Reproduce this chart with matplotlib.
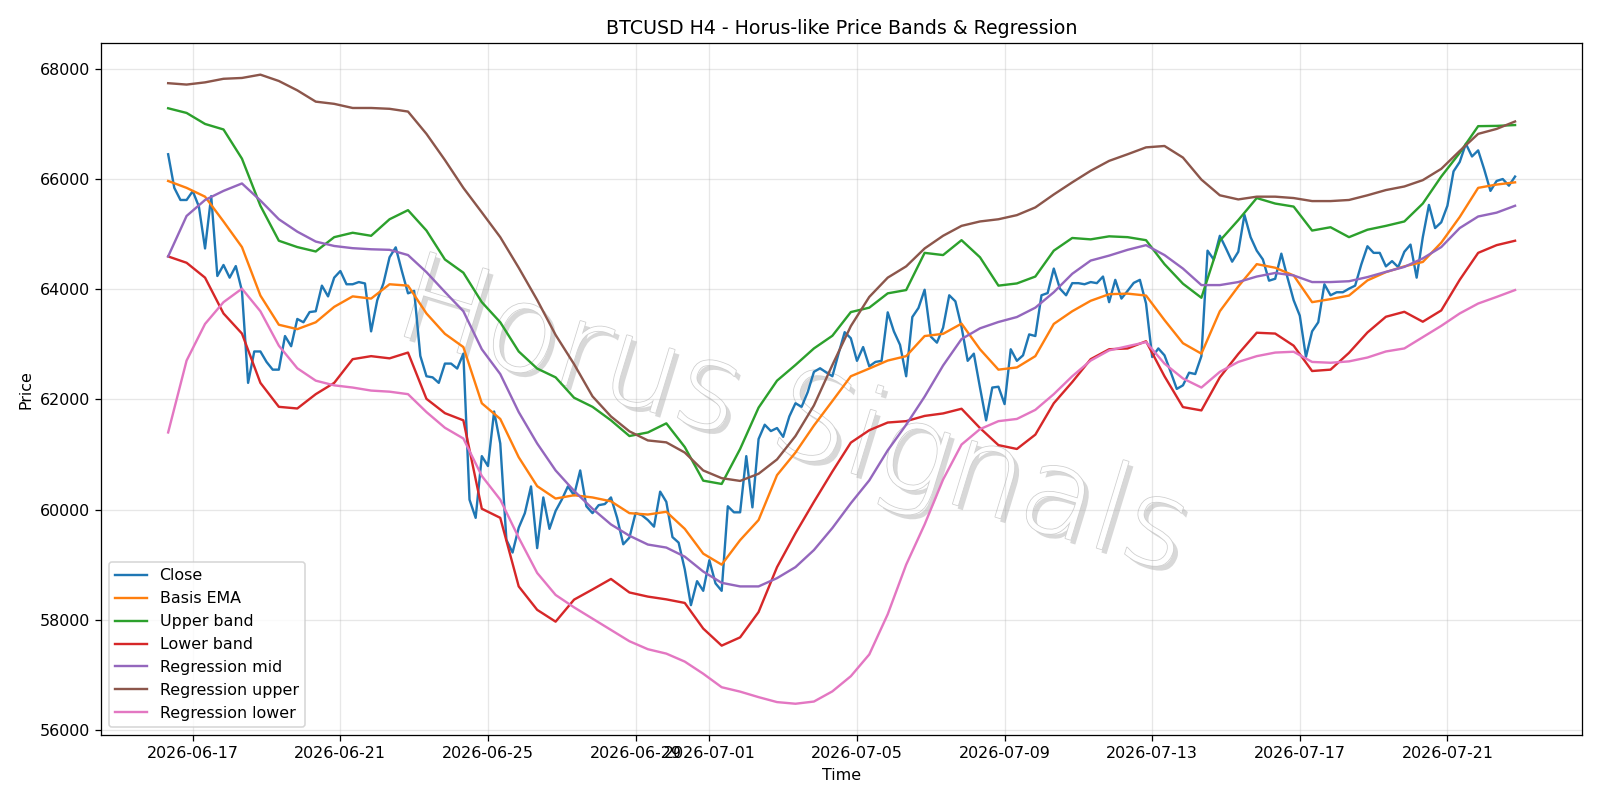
import matplotlib
matplotlib.use("Agg")
import matplotlib.pyplot as plt
import matplotlib.dates as mdates
import matplotlib.patheffects as pe
import pandas as pd

# H4 closes, first bar 2026-06-16 08:00
close = [
    66450, 65840, 65620, 65620, 65780, 65500, 64740, 65690, 64240, 64440,
    64210, 64420, 63970, 62300, 62870, 62870, 62680, 62540, 62540, 63150,
    62965, 63460, 63400, 63585, 63600, 64065, 63870, 64210, 64330, 64090,
    64090, 64130, 64105, 63235, 63800, 64105, 64580, 64760, 64330, 63925,
    63970, 62790, 62420, 62400, 62300, 62650, 62650, 62560, 62830, 60180,
    59850, 60970, 60790, 61780, 61200, 59450, 59220, 59670, 59935, 60420,
    59300, 60220, 59650, 59975, 60180, 60420, 60260, 60710, 60060, 59935,
    60080, 60100, 60220, 59850, 59370, 59490, 59935, 59900, 59810, 59690,
    60325, 60140, 59500, 59400, 58915, 58265, 58700, 58525, 59080, 58660,
    58525, 60060, 59950, 59950, 60970, 60040, 61280, 61540, 61425, 61480,
    61320, 61690, 61930, 61865, 62135, 62500, 62565, 62490, 62420, 62830,
    63220, 63110, 62700, 62950, 62600, 62680, 62700, 63580, 63235, 62990,
    62420, 63495, 63660, 63990, 63140, 63030, 63300, 63890, 63780, 63315,
    62700, 62830, 62215, 61620, 62215, 62230, 61915, 62910, 62700, 62800,
    63180, 63150, 63890, 63930, 64375, 64010, 63890, 64110, 64110, 64090,
    64130, 64110, 64230, 63765, 64170, 63830, 63970, 64115, 64170, 63740,
    62770, 62925, 62800, 62500, 62190, 62255, 62485, 62460, 62785, 64700,
    64540, 64970, 64740, 64500, 64680, 65350, 64945, 64700, 64540, 64155,
    64190, 64645, 64210, 63800, 63520, 62770, 63235, 63400, 64090, 63890,
    63945, 63945, 64010, 64065, 64450, 64780, 64660, 64660, 64415, 64510,
    64400, 64680, 64810, 64210, 64945, 65530, 65110, 65215, 65515, 66140,
    66310, 66640, 66410, 66520, 66170, 65785, 65965, 66000, 65880, 66045,
]

# smooth series, read every 3rd bar (12h)
basis_ema = [
    65965, 65840, 65680, 65230, 64765, 63885, 63355, 63275, 63400, 63680,
    63870, 63830, 64090, 64065, 63560, 63190, 62950, 61930, 61645, 60950,
    60425, 60200, 60260, 60220, 60150, 59935, 59910, 59960, 59650, 59200,
    59000, 59445, 59810, 60625, 61035, 61525, 61970, 62420, 62560, 62705,
    62785, 63150, 63190, 63375, 62910, 62540, 62580, 62785, 63370, 63600,
    63790, 63910, 63920, 63885, 63440, 63020, 62830, 63600, 64050, 64455,
    64390, 64250, 63765, 63820, 63885, 64160, 64310, 64415, 64495, 64845,
    65310, 65840, 65900, 65940,
]
upper_band = [
    67285, 67200, 67000, 66900, 66370, 65515, 64880, 64765, 64685, 64945,
    65025, 64970, 65270, 65435, 65065, 64540, 64300, 63765, 63400, 62870,
    62560, 62400, 62030, 61865, 61620, 61335, 61400, 61565, 61135, 60525,
    60465, 61100, 61850, 62340, 62625, 62925, 63155, 63585, 63665, 63925,
    63985, 64660, 64620, 64890, 64580, 64065, 64105, 64230, 64700, 64930,
    64905, 64960, 64945, 64890, 64455, 64100, 63845, 64880, 65255, 65655,
    65555, 65500, 65065, 65125, 64945, 65080, 65150, 65230, 65555, 66045,
    66475, 66960, 66965, 66980,
]
lower_band = [
    64595, 64480, 64210, 63560, 63195, 62300, 61865, 61835, 62095, 62300,
    62730, 62785, 62745, 62850, 62010, 61750, 61620, 60015, 59850, 58605,
    58180, 57965, 58365, 58550, 58740, 58495, 58420, 58370, 58305, 57840,
    57530, 57680, 58140, 58955, 59570, 60140, 60690, 61215, 61440, 61580,
    61605, 61700, 61745, 61830, 61480, 61170, 61100, 61360, 61930, 62315,
    62730, 62910, 62925, 63055, 62420, 61860, 61800, 62400, 62825, 63210,
    63195, 62975, 62515, 62540, 62845, 63215, 63500, 63590, 63410, 63615,
    64170, 64660, 64800, 64880,
]
reg_mid = [
    64595, 65330, 65620, 65785, 65920, 65610, 65270, 65045, 64865, 64785,
    64745, 64725, 64715, 64620, 64310, 63950, 63600, 62910, 62460, 61770,
    61200, 60710, 60340, 60015, 59730, 59525, 59365, 59310, 59145, 58875,
    58670, 58605, 58605, 58755, 58955, 59265, 59665, 60115, 60530, 61075,
    61540, 62050, 62615, 63095, 63290, 63405, 63495, 63665, 63945, 64280,
    64520, 64610, 64715, 64800, 64620, 64375, 64075, 64075, 64130, 64230,
    64295, 64250, 64130, 64130, 64145, 64220, 64315, 64405, 64560, 64765,
    65110, 65320, 65390, 65515,
]
reg_upper = [
    67740, 67715, 67755, 67820, 67835, 67895, 67780, 67610, 67405, 67365,
    67290, 67290, 67275, 67225, 66820, 66345, 65840, 65395, 64945, 64390,
    63805, 63170, 62640, 62055, 61690, 61420, 61255, 61220, 61035, 60710,
    60570, 60520, 60650, 60910, 61335, 61890, 62625, 63330, 63860, 64210,
    64415, 64740, 64970, 65150, 65230, 65270, 65345, 65485, 65720, 65940,
    66150, 66330, 66450, 66575, 66600, 66390, 65990, 65705, 65630, 65680,
    65680, 65655, 65600, 65600, 65620, 65705, 65800, 65865, 65980, 66185,
    66510, 66820, 66910, 67045,
]
reg_lower = [
    61400, 62705, 63370, 63765, 64010, 63600, 62975, 62565, 62340, 62255,
    62215, 62160, 62140, 62095, 61770, 61485, 61290, 60610, 60180, 59490,
    58850, 58450, 58225, 58020, 57815, 57610, 57465, 57385, 57240, 57020,
    56775, 56695, 56595, 56505, 56475, 56515, 56700, 56975, 57370, 58100,
    59000, 59730, 60545, 61180, 61460, 61605, 61645, 61810, 62095, 62420,
    62705, 62890, 62965, 63040, 62650, 62380, 62215, 62500, 62680, 62785,
    62850, 62865, 62680, 62665, 62690, 62760, 62870, 62925, 63130, 63335,
    63560, 63740, 63860, 63985,
]

times = pd.date_range("2026-06-16 08:00", periods=len(close), freq="4h")
t12 = times[::3]

fig, ax = plt.subplots(figsize=(14, 7), dpi=1600 / 14)

ax.plot(times, close, label="Close")
ax.plot(t12, basis_ema, label="Basis EMA")
ax.plot(t12, upper_band, label="Upper band")
ax.plot(t12, lower_band, label="Lower band")
ax.plot(t12, reg_mid, label="Regression mid")
ax.plot(t12, reg_upper, label="Regression upper")
ax.plot(t12, reg_lower, label="Regression lower")

# watermark
ax.text(0.467, 0.455, "Horus Signals", transform=ax.transAxes,
        fontsize=76, fontweight="light", color="white", rotation=-17,
        ha="center", va="center", zorder=1,
        path_effects=[pe.withSimplePatchShadow(offset=(3, -3), shadow_rgbFace="gray", alpha=0.3),
                      pe.Stroke(linewidth=1.0, foreground="#cfcfcf"),
                      pe.Normal()])

ax.xaxis.set_major_locator(mdates.DayLocator(bymonthday=range(1, 32, 4)))
ax.xaxis.set_major_formatter(mdates.DateFormatter("%Y-%m-%d"))

ax.set_title("BTCUSD H4 - Horus-like Price Bands & Regression")
ax.set_xlabel("Time")
ax.set_ylabel("Price")
ax.grid(True, alpha=0.3)
ax.legend(loc="lower left")

fig.subplots_adjust(left=0.063, right=0.989, top=0.946, bottom=0.081)
fig.savefig("out.png")
